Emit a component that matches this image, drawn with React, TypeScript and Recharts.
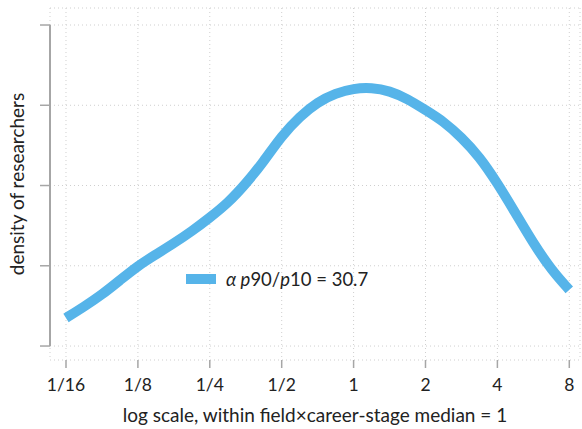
import {
  LineChart,
  Line,
  XAxis,
  YAxis,
  CartesianGrid,
  Legend,
  ReferenceLine,
} from 'recharts';

// log2 of the ratio to the field x career-stage median
const logRatio = [
  -4, -3.75, -3.5, -3.25, -3, -2.75, -2.5, -2.25, -2, -1.75, -1.5, -1.25, -1, -0.75, -0.5,
  -0.25, 0, 0.25, 0.5, 0.75, 1, 1.25, 1.5, 1.75, 2, 2.25, 2.5, 2.75, 3,
];
const density = [
  0.35, 0.49, 0.64, 0.82, 1.0, 1.14, 1.28, 1.43, 1.6, 1.78, 2.02, 2.3, 2.62, 2.86, 3.04,
  3.15, 3.21, 3.22, 3.18, 3.08, 2.94, 2.8, 2.6, 2.36, 2.03, 1.66, 1.28, 0.95, 0.7,
];
const xTicks = [-4, -3, -2, -1, 0, 1, 2, 3];
const xTickLabels = ['1/16', '1/8', '1/4', '1/2', '1', '2', '4', '8'];
const yTicks = [0, 1, 2, 3, 4];

const X_MIN = -4.2225;
const X_MAX = 3.149;
const Y_MIN = -0.174;
const Y_MAX = 4.212;

const data = logRatio.map((x, i) => ({ x, density: density[i] }));

const FONT = 'Lato, "Noto Sans", sans-serif';
const BLUE = '#56b4e9';
const AXIS = '#a6a6a6';

const LegendContent = () => (
  <div style={{ display: 'flex', alignItems: 'center', fontFamily: FONT, fontSize: 18.5, color: '#222', whiteSpace: 'nowrap' }}>
    <span style={{ display: 'inline-block', width: 30, height: 10, background: BLUE, marginRight: 10 }} />
    <span>
      <i>α p</i>90/<i>p</i>10 = 30.7
    </span>
  </div>
);

export default function App() {
  return (
    <div style={{ position: 'absolute', left: 0, top: 0, width: 582, height: 429, background: '#fff' }}>
      <LineChart
        width={582}
        height={429}
        data={data}
        margin={{ top: 8, right: 2, bottom: 0, left: 0 }}
        style={{ fontFamily: FONT }}
      >
        <CartesianGrid stroke="#cfcfcf" strokeDasharray="1 3" />
        <XAxis
          type="number"
          dataKey="x"
          domain={[X_MIN, X_MAX]}
          ticks={xTicks}
          tickFormatter={(v: number) => xTickLabels[xTicks.indexOf(v)] ?? ''}
          allowDataOverflow
          axisLine={false}
          tickLine={{ stroke: AXIS, strokeWidth: 1.5 }}
          tickSize={8}
          tickMargin={11}
          height={69}
          tick={{ fill: '#222', fontSize: 17.5 }}
          label={{
            value: 'log scale, within field×career-stage median = 1',
            position: 'insideBottom',
            offset: 7,
            fill: '#222',
            fontSize: 19,
          }}
        />
        <YAxis
          type="number"
          domain={[Y_MIN, Y_MAX]}
          ticks={yTicks}
          tickFormatter={() => ''}
          allowDataOverflow
          width={50}
          axisLine={false}
          tickLine={{ stroke: AXIS, strokeWidth: 1.5 }}
          tickSize={10}
          label={{
            value: 'density of researchers',
            angle: -90,
            position: 'insideLeft',
            offset: 17,
            fill: '#222',
            fontSize: 19,
            style: { textAnchor: 'middle' },
          }}
        />
        <ReferenceLine
          segment={[
            { x: X_MIN, y: 0 },
            { x: X_MIN, y: 4 },
          ]}
          stroke={AXIS}
          strokeWidth={2}
          ifOverflow="visible"
        />
        <Legend
          layout="horizontal"
          verticalAlign="middle"
          align="center"
          content={<LegendContent />}
          wrapperStyle={{ position: 'absolute', left: 186, top: 268, width: 'auto' }}
        />
        <Line
          type="basis"
          dataKey="density"
          stroke={BLUE}
          strokeWidth={10}
          dot={false}
          isAnimationActive={false}
        />
      </LineChart>
    </div>
  );
}
